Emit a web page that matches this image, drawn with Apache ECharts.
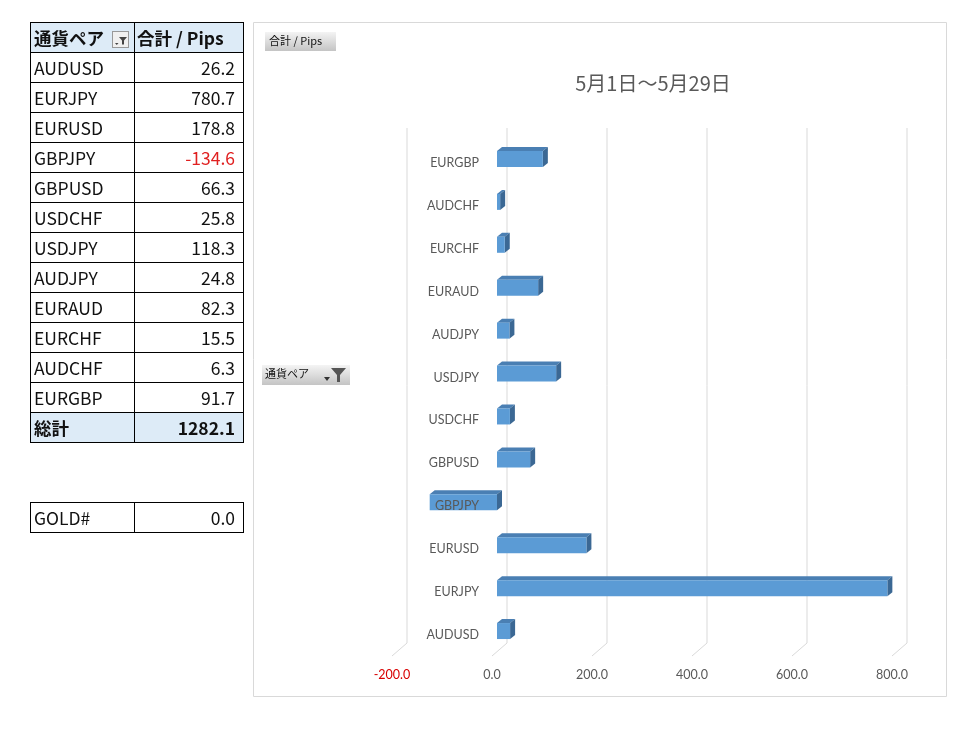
<!DOCTYPE html>
<html>
<head>
<meta charset="utf-8">
<script src="https://cdn.jsdelivr.net/npm/echarts@6/dist/echarts.min.js"></script>
<style>
  html, body { margin: 0; padding: 0; background: #fff; }
  #main { position: absolute; left: 0; top: 0; width: 965px; height: 742px; }
  table.pv { position: absolute; left: 30px; width: 213px; table-layout: fixed; border-collapse: collapse;
             font-family: "Noto Sans CJK JP", "Noto Sans", sans-serif; font-size: 17.5px; color: #111; }
  table.pv td { border: 1px solid #000; height: 29px; padding: 0 8px 0 3px; line-height: 29px; white-space: nowrap; overflow: hidden; }
  table.pv col.k { width: 104px; }
  table.pv col.v { width: 109px; }
  table.pv td.v { text-align: right; }
  table.pv tr.hd td, table.pv tr.tot td { background: #ddebf7; font-weight: bold; }
  table.pv tr.hd td.v { padding: 0 4px 0 2px; text-align: left; }
  .neg { color: #e02020; }
  .flt { display: inline-block; width: 15px; height: 15px; border: 1px solid #999; background: #f0f0f0;
         vertical-align: middle; margin-left: 8px; position: relative; top: -1px; }
  .flt svg { display: block; }
</style>
</head>
<body>
<div id="main"></div>
<table class="pv" id="tbl" style="top:22px"></table>
<table class="pv" id="tbl2" style="top:502px"></table>
<script>
// 通貨ペア別 合計pips (5/1～5/29)
var pairs = ['AUDUSD', 'EURJPY', 'EURUSD', 'GBPJPY', 'GBPUSD', 'USDCHF', 'USDJPY', 'AUDJPY', 'EURAUD', 'EURCHF', 'AUDCHF', 'EURGBP'];
var pips = [26.2, 780.7, 178.8, -134.6, 66.3, 25.8, 118.3, 24.8, 82.3, 15.5, 6.3, 91.7];
var xTicks = [-200, 0, 200, 400, 600, 800];
var goldPair = 'GOLD#';
var goldPips = 0.0;

// 左の表
var total = 0;
var cols = '<colgroup><col class="k"><col class="v"></colgroup>';
var rows = cols + '<tr class="hd"><td class="k">通貨ペア<span class="flt"><svg width="15" height="15"><path d="M6 5h8l-3 3.5v4h-2v-4z" fill="#444"/><path d="M2 11h3.5l-1.75 2z" fill="#444"/></svg></span></td><td class="v">合計 / Pips</td></tr>';
for (var i = 0; i < pairs.length; i++) {
    total += pips[i];
    rows += '<tr><td class="k">' + pairs[i] + '</td><td class="v' + (pips[i] < 0 ? ' neg' : '') + '">' + pips[i].toFixed(1) + '</td></tr>';
}
rows += '<tr class="tot"><td class="k">総計</td><td class="v">' + total.toFixed(1) + '</td></tr>';
document.getElementById('tbl').innerHTML = rows;
document.getElementById('tbl2').innerHTML = cols + '<tr><td class="k">' + goldPair + '</td><td class="v">' + goldPips.toFixed(1) + '</td></tr>';

var myChart = echarts.init(document.getElementById('main'));
var txt = '#595959';
var btnFill = new echarts.graphic.LinearGradient(0, 0, 0, 1, [{offset: 0, color: '#f4f4f4'}, {offset: 1, color: '#c4c4c4'}]);

option = {
    animation: false,
    title: {
        text: '5月1日～5月29日',
        left: 648,
        top: 68,
        textAlign: 'center',
        textStyle: { fontFamily: 'Noto Sans CJK JP', fontSize: 20, fontWeight: 'normal', color: txt }
    },
    graphic: [
        { type: 'rect', shape: { x: 253.5, y: 22.5, width: 693, height: 674 }, style: { fill: null, stroke: '#d9d9d9', lineWidth: 1 }, z: -1 },
        { type: 'rect', shape: { x: 265, y: 32, width: 71, height: 19 }, style: { fill: btnFill } },
        { type: 'text', x: 269, y: 35, style: { text: '合計 / Pips', fontSize: 11, fontFamily: 'Noto Sans CJK JP', fill: '#111' } },
        { type: 'rect', shape: { x: 262, y: 365, width: 88, height: 20 }, style: { fill: btnFill } },
        { type: 'text', x: 265, y: 368, style: { text: '通貨ペア', fontSize: 11, fontFamily: 'Noto Sans CJK JP', fill: '#111' } },
        { type: 'polygon', shape: { points: [[324, 377], [330, 377], [327, 381]] }, style: { fill: '#333' } },
        { type: 'polygon', shape: { points: [[331, 368], [346, 368], [340, 375], [340, 382], [337, 382], [337, 375]] }, style: { fill: '#555' } }
    ],
    grid: { left: 397, width: 500, top: 141.5, height: 515 },
    xAxis: {
        type: 'value',
        min: -200,
        max: 800,
        interval: 200,
        axisLine: { show: false },
        axisTick: { show: false },
        splitLine: { show: false },
        axisLabel: {
            margin: 12,
            padding: [0, 10, 0, 0],
            fontFamily: 'Lato',
            fontSize: 12.5,
            formatter: function (v) { return v.toFixed(1); },
            color: function (v) { return v < 0 ? '#d80000' : txt; }
        }
    },
    yAxis: {
        type: 'category',
        data: pairs,
        z: 5,
        offset: -100,
        axisLine: { show: false, onZero: false },
        axisTick: { show: false },
        axisLabel: { margin: 18, fontFamily: 'Lato', fontSize: 12.5, color: txt }
    },
    series: [
        {
            // 奥の壁と床の目盛線
            type: 'custom',
            z: 0,
            silent: true,
            data: xTicks.map(function (v) { return [v, 0]; }),
            encode: { x: 0, y: 1 },
            renderItem: function (params, api) {
                var x = api.coord([api.value(0), 0])[0];
                var cs = params.coordSys;
                var top = cs.y - 13.5;
                var bot = cs.y + cs.height - 13.5;
                return {
                    type: 'polyline',
                    shape: { points: [[x + 10, top], [x + 10, bot], [x - 5, bot + 13]] },
                    style: { stroke: '#d9d9d9', fill: null, lineWidth: 1 }
                };
            }
        },
        {
            name: '合計 / Pips',
            type: 'custom',
            z: 2,
            data: pips.map(function (v, i) { return [v, i]; }),
            encode: { x: 0, y: 1 },
            renderItem: function (params, api) {
                var p0 = api.coord([0, api.value(1)]);
                var p1 = api.coord([api.value(0), api.value(1)]);
                var xl = Math.min(p0[0], p1[0]);
                var xr = Math.max(p0[0], p1[0]);
                var cy = p0[1] - 4;
                var yt = cy - 8, yb = cy + 8;
                var dx = 5, dy = -4;
                return {
                    type: 'group',
                    children: [
                        { type: 'polygon', shape: { points: [[xl, yt], [xl + dx, yt + dy], [xr + dx, yt + dy], [xr, yt]] }, style: { fill: '#4a7fb3' } },
                        { type: 'polygon', shape: { points: [[xr, yt], [xr + dx, yt + dy], [xr + dx, yb + dy], [xr, yb]] }, style: { fill: '#3b6894' } },
                        { type: 'rect', shape: { x: xl, y: yt, width: xr - xl, height: yb - yt }, style: { fill: '#5b9bd5' } }
                    ]
                };
            }
        }
    ]
};

myChart.setOption(option);
</script>
</body>
</html>
